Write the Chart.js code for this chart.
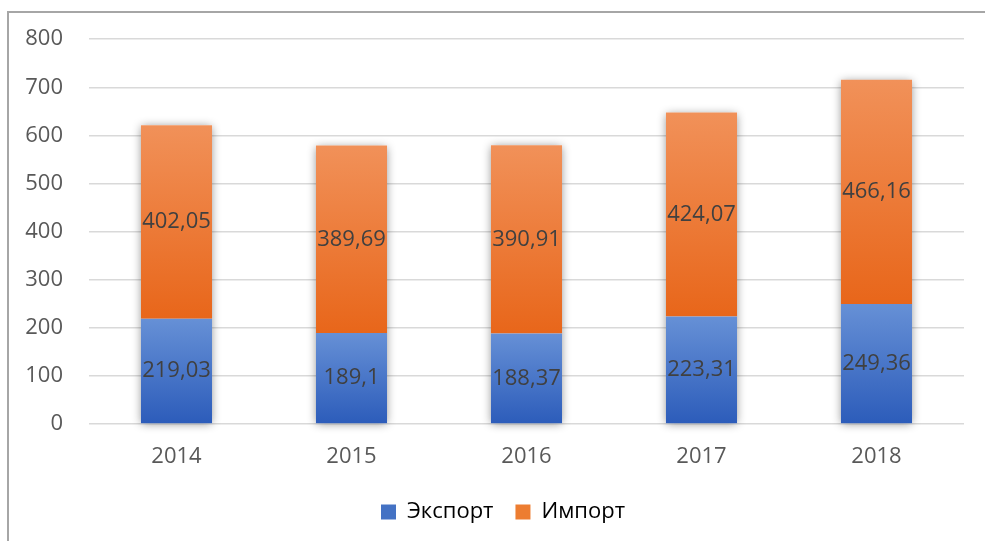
<!DOCTYPE html>
<html>
<head>
<meta charset="utf-8">
<script src="https://cdn.jsdelivr.net/npm/chart.js@4"></script>
<style>
  html, body { margin: 0; padding: 0; background: #fff; }
  #wrap { position: relative; width: 985px; height: 541px; overflow: hidden; }
  #frame { position: absolute; left: 7px; top: 11px; width: 1000px; height: 600px;
           border-left: 2px solid #a6a6a6; border-top: 2px solid #a6a6a6; }
  canvas { position: absolute; left: 0; top: 0; }
</style>
</head>
<body>
<div id="wrap">
  <div id="frame"></div>
  <canvas id="c" width="985" height="541"></canvas>
</div>
<script>
const categories = ['2014', '2015', '2016', '2017', '2018'];
const exportValues = [219.03, 189.1, 188.37, 223.31, 249.36];
const importValues = [402.05, 389.69, 390.91, 424.07, 466.16];
const seriesNames = ['Экспорт', 'Импорт'];
const yTicks = [0, 100, 200, 300, 400, 500, 600, 700, 800];

const FONT = '"Open Sans", "Noto Sans", sans-serif';

const blueTop = '#6690d6', blueBottom = '#2c5cba';
const orangeTop = '#f19159', orangeBottom = '#e8661a';

function segGradient(ctx, top, bottom) {
  const chart = ctx.chart;
  const y = chart.scales.y;
  if (!y || ctx.dataIndex === undefined) return top;
  let start = 0;
  for (let d = 0; d < ctx.datasetIndex; d++) start += chart.data.datasets[d].data[ctx.dataIndex];
  const end = start + chart.data.datasets[ctx.datasetIndex].data[ctx.dataIndex];
  const y0 = y.getPixelForValue(end), y1 = y.getPixelForValue(start);
  if (!isFinite(y0) || !isFinite(y1) || y0 === y1) return top;
  const g = chart.ctx.createLinearGradient(0, y0, 0, y1);
  g.addColorStop(0, top);
  g.addColorStop(1, bottom);
  return g;
}

const shadowPlugin = {
  id: 'barShadow',
  beforeDatasetsDraw(chart) {
    const ctx = chart.ctx;
    const m0 = chart.getDatasetMeta(0), m1 = chart.getDatasetMeta(1);
    ctx.save();
    ctx.shadowColor = 'rgba(0,0,0,0.45)';
    ctx.shadowBlur = 9;
    ctx.shadowOffsetX = 0;
    ctx.shadowOffsetY = 1;
    ctx.fillStyle = '#ffffff';
    m0.data.forEach((el, i) => {
      const top = m1.data[i].y;
      const base = el.base;
      ctx.fillRect(el.x - el.width / 2, top, el.width, base - top);
    });
    ctx.restore();
  }
};

const labelPlugin = {
  id: 'segLabels',
  afterDatasetsDraw(chart) {
    const ctx = chart.ctx;
    ctx.save();
    ctx.font = '22px ' + FONT;
    ctx.fillStyle = '#404040';
    ctx.textAlign = 'center';
    ctx.textBaseline = 'middle';
    chart.data.datasets.forEach((ds, di) => {
      const meta = chart.getDatasetMeta(di);
      meta.data.forEach((el, i) => {
        const txt = String(ds.data[i]).replace('.', ',');
        ctx.fillText(txt, el.x, (el.y + el.base) / 2);
      });
    });
    ctx.restore();
  }
};

// nudge the legend block so it sits where the original's legend sits
const legendShift = {
  id: 'legendShift',
  afterLayout(chart) {
    if (chart.legend) { chart.legend.left += 21; chart.legend.right += 21; }
  }
};

new Chart(document.getElementById('c'), {
  type: 'bar',
  data: {
    labels: categories,
    datasets: [
      { label: seriesNames[0], data: exportValues,
        backgroundColor: (c) => segGradient(c, blueTop, blueBottom),
        borderWidth: 0 },
      { label: seriesNames[1], data: importValues,
        backgroundColor: (c) => segGradient(c, orangeTop, orangeBottom),
        borderWidth: 0 }
    ]
  },
  options: {
    responsive: false,
    animation: false,
    devicePixelRatio: 1,
    layout: { padding: { top: 38, right: 21, bottom: 8, left: 0 } },
    datasets: { bar: { barPercentage: 0.406, categoryPercentage: 1.0 } },
    scales: {
      x: {
        stacked: true,
        grid: { display: false, drawTicks: false },
        border: { display: false },
        ticks: { color: '#595959', font: { family: FONT, size: 22 }, padding: 20 },
        afterFit(scale) { scale.height = 55; }
      },
      y: {
        stacked: true,
        min: 0, max: 800,
        afterBuildTicks(scale) { scale.ticks = yTicks.map(v => ({ value: v })); },
        grid: { color: '#d9d9d9', lineWidth: 1.5, drawTicks: false },
        border: { display: false },
        ticks: { color: '#595959', font: { family: FONT, size: 22 }, padding: 26 },
        afterFit(scale) { scale.width = 89; }
      }
    },
    plugins: {
      legend: {
        position: 'bottom',
        labels: {
          color: '#595959',
          font: { family: FONT, size: 22 },
          boxWidth: 15, boxHeight: 15,
          padding: 22,
          generateLabels(chart) {
            return chart.data.datasets.map((ds, i) => ({
              text: ds.label,
              fillStyle: i === 0 ? '#4472c4' : '#ed7d31',
              strokeStyle: 'rgba(0,0,0,0)',
              lineWidth: 0,
              datasetIndex: i
            }));
          }
        }
      },
      tooltip: { enabled: false }
    }
  },
  plugins: [shadowPlugin, labelPlugin, legendShift]
});
</script>
</body>
</html>
